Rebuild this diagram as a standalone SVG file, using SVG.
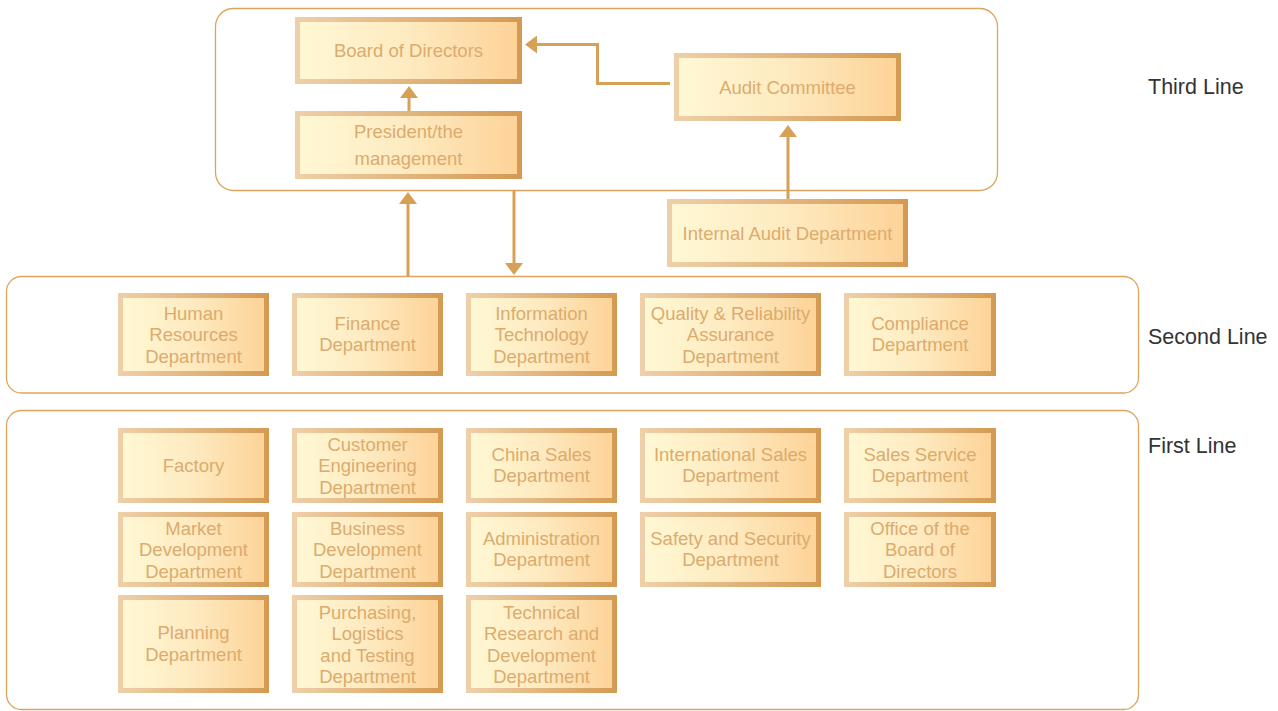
<svg xmlns="http://www.w3.org/2000/svg" width="1278" height="711" viewBox="0 0 1278 711">
<defs>
<linearGradient id="frame" x1="0" y1="0" x2="1" y2="0">
<stop offset="0" stop-color="#efd0aa"/>
<stop offset="1" stop-color="#d49a52"/>
</linearGradient>
<linearGradient id="fill" x1="0" y1="0" x2="1" y2="0">
<stop offset="0" stop-color="#fff8d4"/>
<stop offset="0.5" stop-color="#feeac0"/>
<stop offset="1" stop-color="#fdd398"/>
</linearGradient>
<marker id="ah" viewBox="0 0 12 18" refX="0" refY="9" markerWidth="12" markerHeight="18" orient="auto" markerUnits="userSpaceOnUse">
<path d="M0,0 L12,9 L0,18 Z" fill="#d6a057"/>
</marker>
<style>
.cont{fill:none;stroke:#dca45e;stroke-width:1.3}
.fr{fill:url(#frame)}
.in{fill:url(#fill)}
.t{font-family:"Liberation Sans",Arial,sans-serif;font-size:18.5px;fill:#dcab6e;text-anchor:middle}
.lbl{font-family:"Liberation Sans",Arial,sans-serif;font-size:21.5px;fill:#333333}
.c{fill:none;stroke:#d6a057;stroke-width:3}
</style>
</defs>

<g id="containers">
<rect class="cont" x="215.5" y="8.5" width="782" height="182" rx="18"/>
<rect class="cont" x="6.5" y="276.5" width="1132" height="116.5" rx="15"/>
<rect class="cont" x="6.5" y="410.5" width="1132" height="299" rx="15"/>
</g>

<g id="line-labels">
<text class="lbl" x="1148" y="94">Third Line</text>
<text class="lbl" x="1148" y="344">Second Line</text>
<text class="lbl" x="1148" y="453">First Line</text>
</g>

<g id="connectors">
<line class="c" x1="409" y1="111" x2="409" y2="98" marker-end="url(#ah)"/>
<polyline class="c" points="670,83.5 597.5,83.5 597.5,44.5 537,44.5" marker-end="url(#ah)"/>
<line class="c" x1="788" y1="199" x2="788" y2="137" marker-end="url(#ah)"/>
<line class="c" x1="408" y1="276" x2="408" y2="204" marker-end="url(#ah)"/>
<line class="c" x1="514" y1="190" x2="514" y2="263" marker-end="url(#ah)"/>
</g>

<g id="board">
<rect class="fr" x="295" y="17" width="227" height="67"/><rect class="in" x="300" y="22" width="217" height="57"/>
<text class="t" x="408.5" y="57">Board of Directors</text>
</g>
<g id="president">
<rect class="fr" x="295" y="111" width="227" height="68"/><rect class="in" x="300" y="116" width="217" height="58"/>
<text class="t" x="408.5" y="138">President/the</text>
<text class="t" x="408.5" y="165">management</text>
</g>
<g id="audit-committee">
<rect class="fr" x="674" y="53" width="227" height="68"/><rect class="in" x="679" y="58" width="217" height="58"/>
<text class="t" x="787.5" y="93.5">Audit Committee</text>
</g>
<g id="internal-audit">
<rect class="fr" x="667" y="199" width="241" height="68"/><rect class="in" x="672" y="204" width="231" height="58"/>
<text class="t" x="787.5" y="239.5">Internal Audit Department</text>
</g>

<g id="hr">
<rect class="fr" x="118" y="293" width="151" height="83"/><rect class="in" x="123" y="298" width="141" height="73"/>
<text class="t" x="193.5" y="319.5">Human</text><text class="t" x="193.5" y="341">Resources</text><text class="t" x="193.5" y="362.5">Department</text>
</g>
<g id="finance">
<rect class="fr" x="292" y="293" width="151" height="83"/><rect class="in" x="297" y="298" width="141" height="73"/>
<text class="t" x="367.5" y="329.5">Finance</text><text class="t" x="367.5" y="351">Department</text>
</g>
<g id="it">
<rect class="fr" x="466" y="293" width="151" height="83"/><rect class="in" x="471" y="298" width="141" height="73"/>
<text class="t" x="541.5" y="319.5">Information</text><text class="t" x="541.5" y="341">Technology</text><text class="t" x="541.5" y="362.5">Department</text>
</g>
<g id="qra">
<rect class="fr" x="640" y="293" width="181" height="83"/><rect class="in" x="645" y="298" width="171" height="73"/>
<text class="t" x="730.5" y="319.5">Quality &amp; Reliability</text><text class="t" x="730.5" y="341">Assurance</text><text class="t" x="730.5" y="362.5">Department</text>
</g>
<g id="compliance">
<rect class="fr" x="844" y="293" width="152" height="83"/><rect class="in" x="849" y="298" width="142" height="73"/>
<text class="t" x="920" y="329.5">Compliance</text><text class="t" x="920" y="351">Department</text>
</g>

<g id="factory">
<rect class="fr" x="118" y="428" width="151" height="75"/><rect class="in" x="123" y="433" width="141" height="65"/>
<text class="t" x="193.5" y="472">Factory</text>
</g>
<g id="customer-eng">
<rect class="fr" x="292" y="428" width="151" height="75"/><rect class="in" x="297" y="433" width="141" height="65"/>
<text class="t" x="367.5" y="450.5">Customer</text><text class="t" x="367.5" y="472">Engineering</text><text class="t" x="367.5" y="493.5">Department</text>
</g>
<g id="china-sales">
<rect class="fr" x="466" y="428" width="151" height="75"/><rect class="in" x="471" y="433" width="141" height="65"/>
<text class="t" x="541.5" y="460.5">China Sales</text><text class="t" x="541.5" y="482">Department</text>
</g>
<g id="intl-sales">
<rect class="fr" x="640" y="428" width="181" height="75"/><rect class="in" x="645" y="433" width="171" height="65"/>
<text class="t" x="730.5" y="460.5">International Sales</text><text class="t" x="730.5" y="482">Department</text>
</g>
<g id="sales-service">
<rect class="fr" x="844" y="428" width="152" height="75"/><rect class="in" x="849" y="433" width="142" height="65"/>
<text class="t" x="920" y="460.5">Sales Service</text><text class="t" x="920" y="482">Department</text>
</g>

<g id="market-dev">
<rect class="fr" x="118" y="512" width="151" height="75"/><rect class="in" x="123" y="517" width="141" height="65"/>
<text class="t" x="193.5" y="534.5">Market</text><text class="t" x="193.5" y="556">Development</text><text class="t" x="193.5" y="577.5">Department</text>
</g>
<g id="business-dev">
<rect class="fr" x="292" y="512" width="151" height="75"/><rect class="in" x="297" y="517" width="141" height="65"/>
<text class="t" x="367.5" y="534.5">Business</text><text class="t" x="367.5" y="556">Development</text><text class="t" x="367.5" y="577.5">Department</text>
</g>
<g id="administration">
<rect class="fr" x="466" y="512" width="151" height="75"/><rect class="in" x="471" y="517" width="141" height="65"/>
<text class="t" x="541.5" y="544.5">Administration</text><text class="t" x="541.5" y="566">Department</text>
</g>
<g id="safety">
<rect class="fr" x="640" y="512" width="181" height="75"/><rect class="in" x="645" y="517" width="171" height="65"/>
<text class="t" x="730.5" y="544.5">Safety and Security</text><text class="t" x="730.5" y="566">Department</text>
</g>
<g id="office-board">
<rect class="fr" x="844" y="512" width="152" height="75"/><rect class="in" x="849" y="517" width="142" height="65"/>
<text class="t" x="920" y="534.5">Office of the</text><text class="t" x="920" y="556">Board of</text><text class="t" x="920" y="577.5">Directors</text>
</g>

<g id="planning">
<rect class="fr" x="118" y="595" width="151" height="98"/><rect class="in" x="123" y="600" width="141" height="88"/>
<text class="t" x="193.5" y="639">Planning</text><text class="t" x="193.5" y="660.5">Department</text>
</g>
<g id="purchasing">
<rect class="fr" x="292" y="595" width="151" height="98"/><rect class="in" x="297" y="600" width="141" height="88"/>
<text class="t" x="367.5" y="618.5">Purchasing,</text><text class="t" x="367.5" y="640">Logistics</text><text class="t" x="367.5" y="661.5">and Testing</text><text class="t" x="367.5" y="683">Department</text>
</g>
<g id="technical-rd">
<rect class="fr" x="466" y="595" width="151" height="98"/><rect class="in" x="471" y="600" width="141" height="88"/>
<text class="t" x="541.5" y="618.5">Technical</text><text class="t" x="541.5" y="640">Research and</text><text class="t" x="541.5" y="661.5">Development</text><text class="t" x="541.5" y="683">Department</text>
</g>
</svg>
